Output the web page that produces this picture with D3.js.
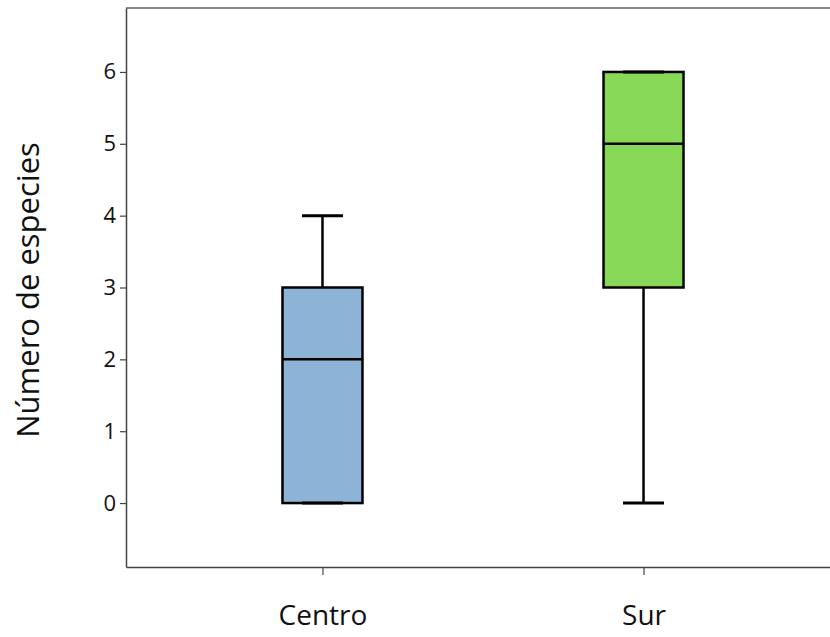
<!DOCTYPE html>
<html>
<head>
<meta charset="utf-8">
<script src="https://cdn.jsdelivr.net/npm/d3@7"></script>
<style>
  html, body { margin: 0; padding: 0; background: #fff; }
  svg { display: block; }
  text { font-family: "Open Sans", "Noto Sans", sans-serif; fill: #111; }
</style>
</head>
<body>
<svg id="chart" width="830" height="637"></svg>
<script>
// Box-plot summaries per zone
const categories = ["Centro", "Sur"];
const minValues    = [0, 0];
const q1Values     = [0, 3];
const medianValues = [2, 5];
const q3Values     = [3, 6];
const maxValues    = [4, 6];
const fillColors   = ["#8DB3D6", "#88D858"];
const yTicks = [0, 1, 2, 3, 4, 5, 6];
const yLabel = "Número de especies";

(function () {
  const svg = d3.select("#chart");
  const plotLeft = 126, plotRight = 840, plotTop = 8, plotBottom = 567;

  const x = d3.scalePoint().domain(categories).range([plotLeft, plotRight]).padding(0.612);
  const y = d3.scaleLinear().domain([-0.89, 6.89]).range([plotBottom, plotTop]);

  const boxW = 80, capW = 41;

  // Top frame line
  svg.append("line")
    .attr("x1", plotLeft).attr("x2", 830).attr("y1", plotTop).attr("y2", plotTop)
    .attr("stroke", "#8a8a8a").attr("stroke-width", 2);

  // Y axis
  const yAxis = svg.append("g").attr("transform", `translate(${plotLeft},0)`)
    .call(d3.axisLeft(y).tickValues(yTicks).tickSize(6).tickSizeOuter(0).tickPadding(4).tickFormat(d3.format("d")));
  yAxis.select(".domain").attr("stroke", "#444").attr("stroke-width", 1.5);
  yAxis.selectAll(".tick line").attr("stroke", "#444").attr("stroke-width", 1.2);
  yAxis.selectAll(".tick text").style("font-size", "22px").attr("fill", "#111");

  // X axis
  const xAxis = svg.append("g").attr("transform", `translate(0,${plotBottom})`)
    .call(d3.axisBottom(x).tickSize(8).tickPadding(30).tickSizeOuter(0));
  xAxis.select(".domain").attr("stroke", "#444").attr("stroke-width", 1.5);
  xAxis.selectAll(".tick line").attr("stroke", "#444").attr("stroke-width", 1.2);
  xAxis.selectAll(".tick text").style("font-size", "28px").attr("fill", "#111");

  // Y axis title
  svg.append("text")
    .attr("transform", `translate(39,290) rotate(-90)`)
    .attr("text-anchor", "middle")
    .style("font-size", "31px")
    .text(yLabel);

  // Boxes
  const data = categories.map((c, i) => ({
    c, min: minValues[i], q1: q1Values[i], med: medianValues[i], q3: q3Values[i], max: maxValues[i], fill: fillColors[i]
  }));

  const g = svg.selectAll("g.box").data(data).enter().append("g").attr("class", "box");

  // whiskers
  g.append("line")
    .attr("x1", d => x(d.c)).attr("x2", d => x(d.c))
    .attr("y1", d => y(d.q3)).attr("y2", d => y(d.max))
    .attr("stroke", "#000").attr("stroke-width", 2.5);
  g.append("line")
    .attr("x1", d => x(d.c)).attr("x2", d => x(d.c))
    .attr("y1", d => y(d.q1)).attr("y2", d => y(d.min))
    .attr("stroke", "#000").attr("stroke-width", 2.5);

  g.append("rect")
    .attr("x", d => x(d.c) - boxW / 2)
    .attr("width", boxW)
    .attr("y", d => y(d.q3))
    .attr("height", d => y(d.q1) - y(d.q3))
    .attr("fill", d => d.fill)
    .attr("stroke", "#000").attr("stroke-width", 2.5);

  // median
  g.append("line")
    .attr("x1", d => x(d.c) - boxW / 2).attr("x2", d => x(d.c) + boxW / 2)
    .attr("y1", d => y(d.med)).attr("y2", d => y(d.med))
    .attr("stroke", "#000").attr("stroke-width", 2.5);

  // caps
  g.append("line")
    .attr("x1", d => x(d.c) - capW / 2).attr("x2", d => x(d.c) + capW / 2)
    .attr("y1", d => y(d.max)).attr("y2", d => y(d.max))
    .attr("stroke", "#000").attr("stroke-width", 3);
  g.append("line")
    .attr("x1", d => x(d.c) - capW / 2).attr("x2", d => x(d.c) + capW / 2)
    .attr("y1", d => y(d.min)).attr("y2", d => y(d.min))
    .attr("stroke", "#000").attr("stroke-width", 3);
})();
</script>
</body>
</html>
